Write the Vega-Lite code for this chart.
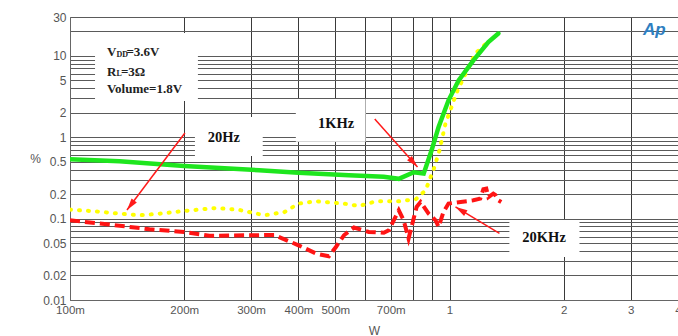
{
  "$schema": "https://vega.github.io/schema/vega-lite/v6.json",
  "width": 608,
  "height": 283,
  "autosize": {"type": "none"},
  "padding": {"left": 70, "top": 17, "right": 0, "bottom": 36},
  "background": "white",
  "config": {
    "view": {"stroke": null},
    "axis": {"labelFont": "Liberation Sans", "titleFont": "Liberation Sans", "labelColor": "#555", "titleColor": "#555", "titleFontWeight": "normal", "domainColor": "#666", "ticks": false, "labelOverlap": false, "labelBound": false, "labelFlush": false}
  },
  "datasets": {
    "green": [
      {"w": 0.1, "pct": 0.536}, {"w": 0.135, "pct": 0.506}, {"w": 0.2, "pct": 0.443}, {"w": 0.315, "pct": 0.393},
      {"w": 0.4, "pct": 0.367}, {"w": 0.543, "pct": 0.34}, {"w": 0.671, "pct": 0.327}, {"w": 0.735, "pct": 0.308},
      {"w": 0.805, "pct": 0.371}, {"w": 0.855, "pct": 0.357}, {"w": 0.897, "pct": 0.69}, {"w": 0.936, "pct": 1.34},
      {"w": 0.994, "pct": 2.84}, {"w": 1.057, "pct": 5.0}, {"w": 1.156, "pct": 8.8}, {"w": 1.266, "pct": 14.8},
      {"w": 1.345, "pct": 18.8}
    ],
    "yellow": [
      {"w": 0.1, "pct": 0.129}, {"w": 0.116, "pct": 0.123}, {"w": 0.135, "pct": 0.115}, {"w": 0.153, "pct": 0.11},
      {"w": 0.172, "pct": 0.115}, {"w": 0.2, "pct": 0.124}, {"w": 0.243, "pct": 0.135}, {"w": 0.279, "pct": 0.128},
      {"w": 0.325, "pct": 0.11}, {"w": 0.367, "pct": 0.12}, {"w": 0.4, "pct": 0.153}, {"w": 0.445, "pct": 0.163},
      {"w": 0.527, "pct": 0.153}, {"w": 0.577, "pct": 0.143}, {"w": 0.64, "pct": 0.163}, {"w": 0.735, "pct": 0.163},
      {"w": 0.815, "pct": 0.173}, {"w": 0.865, "pct": 0.223}, {"w": 0.89, "pct": 0.316}, {"w": 0.908, "pct": 0.4},
      {"w": 0.941, "pct": 0.69}, {"w": 0.976, "pct": 1.48}, {"w": 1.05, "pct": 3.77}, {"w": 1.17, "pct": 10.7},
      {"w": 1.275, "pct": 15.5}
    ],
    "red": [
      {"w": 0.1, "pct": 0.0953}, {"w": 0.127, "pct": 0.0845}, {"w": 0.162, "pct": 0.074}, {"w": 0.2, "pct": 0.0686},
      {"w": 0.233, "pct": 0.0615}, {"w": 0.297, "pct": 0.0624}, {"w": 0.345, "pct": 0.063}, {"w": 0.4, "pct": 0.047},
      {"w": 0.445, "pct": 0.0372}, {"w": 0.481, "pct": 0.0344}, {"w": 0.502, "pct": 0.0448}, {"w": 0.527, "pct": 0.0624},
      {"w": 0.56, "pct": 0.0776}, {"w": 0.613, "pct": 0.0686}, {"w": 0.671, "pct": 0.067}, {"w": 0.692, "pct": 0.072},
      {"w": 0.735, "pct": 0.1265}, {"w": 0.757, "pct": 0.0953}, {"w": 0.78, "pct": 0.0569}, {"w": 0.819, "pct": 0.139},
      {"w": 0.839, "pct": 0.16}, {"w": 0.881, "pct": 0.115}, {"w": 0.919, "pct": 0.0953}, {"w": 0.936, "pct": 0.0789},
      {"w": 0.964, "pct": 0.1205}, {"w": 0.994, "pct": 0.153}, {"w": 1.057, "pct": 0.159}, {"w": 1.156, "pct": 0.168},
      {"w": 1.205, "pct": 0.176}, {"w": 1.228, "pct": 0.229}, {"w": 1.25, "pct": 0.233}, {"w": 1.266, "pct": 0.184},
      {"w": 1.304, "pct": 0.203}, {"w": 1.32, "pct": 0.195}, {"w": 1.345, "pct": 0.168}, {"w": 1.369, "pct": 0.16}
    ],
    "boxes": [
      {"x1": 0.1164, "x2": 0.2173, "y1": 19.06, "y2": 2.79},
      {"x1": 0.2134, "x2": 0.322, "y1": 1.77, "y2": 0.587},
      {"x1": 0.3936, "x2": 0.601, "y1": 2.95, "y2": 0.88},
      {"x1": 1.438, "x2": 2.2, "y1": 0.0962, "y2": 0.0338}
    ],
    "arrows": [
      {"id": "a1", "x1": 0.2008, "y1": 1.127, "x2": 0.1413, "y2": 0.1276},
      {"id": "a2", "x1": 0.6353, "y1": 1.675, "x2": 0.8236, "y2": 0.4306},
      {"id": "a3", "x1": 1.354, "y1": 0.066, "x2": 1.037, "y2": 0.139}
    ],
    "notes": [
      {"w": 0.1251, "pct": 11.23, "t": "V"},
      {"w": 0.1408, "pct": 11.23, "t": "=3.6V"},
      {"w": 0.1251, "pct": 6.38, "t": "R"},
      {"w": 0.1362, "pct": 6.38, "t": "=3Ω"},
      {"w": 0.1251, "pct": 3.88, "t": "Volume=1.8V"}
    ],
    "subs": [
      {"w": 0.1325, "pct": 10.38, "t": "DD"},
      {"w": 0.1325, "pct": 5.9, "t": "L"}
    ],
    "labels": [
      {"w": 0.2543, "pct": 0.97, "t": "20Hz"},
      {"w": 0.5027, "pct": 1.454, "t": "1KHz"},
      {"w": 1.775, "pct": 0.0573, "t": "20KHz"}
    ],
    "logo": [{"w": 3.463, "pct": 20.7, "t": "Ap"}]
  },
  "encoding": {
    "x": {"field": "w", "type": "quantitative", "scale": {"type": "log", "domain": [0.1, 4], "nice": false},
      "axis": {"title": "W", "titleY": 30, "titleBaseline": "middle", "titleFontSize": 12, "labelFontSize": 11.5, "labelPadding": 4,
        "grid": true, "gridColor": "#3a3a3a", "gridWidth": 1,
        "values": [0.1, 0.2, 0.3, 0.4, 0.5, 0.6, 0.7, 0.8, 0.9, 1, 2, 3, 4],
        "labelExpr": "datum.value==0.6||datum.value==0.8||datum.value==0.9 ? '' : (datum.value<1 ? format(datum.value*1000,'d')+'m' : format(datum.value,'d'))"}},
    "y": {"field": "pct", "type": "quantitative", "scale": {"type": "log", "domain": [0.01, 30], "nice": false},
      "axis": {"title": "%", "titleAngle": 0, "titleX": -35, "titleY": 141.5, "titleAlign": "center", "titleBaseline": "middle", "titleFontSize": 12,
        "labelFontSize": 12, "labelPadding": 4, "grid": true, "gridColor": "#5a5a5a", "gridWidth": 1,
        "values": [0.01, 0.02, 0.03, 0.04, 0.05, 0.06, 0.07, 0.08, 0.09, 0.1, 0.2, 0.3, 0.4, 0.5, 0.6, 0.7, 0.8, 0.9, 1, 2, 3, 4, 5, 6, 7, 8, 9, 10, 20, 30],
        "labelExpr": "indexof([0.01,0.02,0.05,0.1,0.2,0.5,1,2,5,10,30], datum.value) >= 0 ? format(datum.value,'~g') : ''"}}
  },
  "layer": [
    {"data": {"name": "boxes"}, "mark": {"type": "rect", "fill": "white"},
      "encoding": {"x": {"field": "x1", "type": "quantitative"}, "x2": {"field": "x2"}, "y": {"field": "y1", "type": "quantitative"}, "y2": {"field": "y2"}}},
    {"data": {"name": "red"}, "mark": {"type": "line", "color": "#ff1414", "strokeWidth": 4, "strokeDash": [10, 5], "clip": true}},
    {"data": {"name": "yellow"}, "mark": {"type": "line", "color": "#ffff00", "strokeWidth": 4, "strokeDash": [1, 8], "strokeCap": "round", "clip": true}},
    {"data": {"name": "green"}, "mark": {"type": "line", "color": "#1ee61e", "strokeWidth": 4.5, "strokeCap": "round", "clip": true}},
    {"data": {"name": "arrows"}, "mark": {"type": "rule", "color": "#ff1a1a", "strokeWidth": 1.5},
      "encoding": {"x": {"field": "x1", "type": "quantitative"}, "y": {"field": "y1", "type": "quantitative"}, "x2": {"field": "x2"}, "y2": {"field": "y2"}}},
    {"data": {"name": "arrows"}, "transform": [{"filter": "datum.id == 'a1'"}],
      "mark": {"type": "point", "shape": "M0,0L-0.55,2L0.55,2Z", "size": 144, "angle": 217, "filled": true, "color": "#ff1a1a", "opacity": 1},
      "encoding": {"x": {"field": "x2", "type": "quantitative"}, "y": {"field": "y2", "type": "quantitative"}}},
    {"data": {"name": "arrows"}, "transform": [{"filter": "datum.id == 'a2'"}],
      "mark": {"type": "point", "shape": "M0,0L-0.55,2L0.55,2Z", "size": 144, "angle": 138, "filled": true, "color": "#ff1a1a", "opacity": 1},
      "encoding": {"x": {"field": "x2", "type": "quantitative"}, "y": {"field": "y2", "type": "quantitative"}}},
    {"data": {"name": "arrows"}, "transform": [{"filter": "datum.id == 'a3'"}],
      "mark": {"type": "point", "shape": "M0,0L-0.55,2L0.55,2Z", "size": 144, "angle": 301, "filled": true, "color": "#ff1a1a", "opacity": 1},
      "encoding": {"x": {"field": "x2", "type": "quantitative"}, "y": {"field": "y2", "type": "quantitative"}}},
    {"data": {"name": "notes"}, "mark": {"type": "text", "font": "Liberation Serif", "fontWeight": "bold", "fontSize": 13, "align": "left", "baseline": "middle", "color": "#222"},
      "encoding": {"text": {"field": "t"}}},
    {"data": {"name": "subs"}, "mark": {"type": "text", "font": "Liberation Serif", "fontWeight": "bold", "fontSize": 8, "align": "left", "baseline": "middle", "color": "#222"},
      "encoding": {"text": {"field": "t"}}},
    {"data": {"name": "labels"}, "mark": {"type": "text", "font": "Liberation Serif", "fontWeight": "bold", "fontSize": 14.5, "align": "center", "baseline": "middle", "color": "#111"},
      "encoding": {"text": {"field": "t"}}},
    {"data": {"name": "logo"}, "mark": {"type": "text", "font": "Liberation Sans", "fontStyle": "italic", "fontWeight": "bold", "fontSize": 17, "align": "center", "baseline": "middle", "color": "#2f7fc1"},
      "encoding": {"text": {"field": "t"}}}
  ]
}
